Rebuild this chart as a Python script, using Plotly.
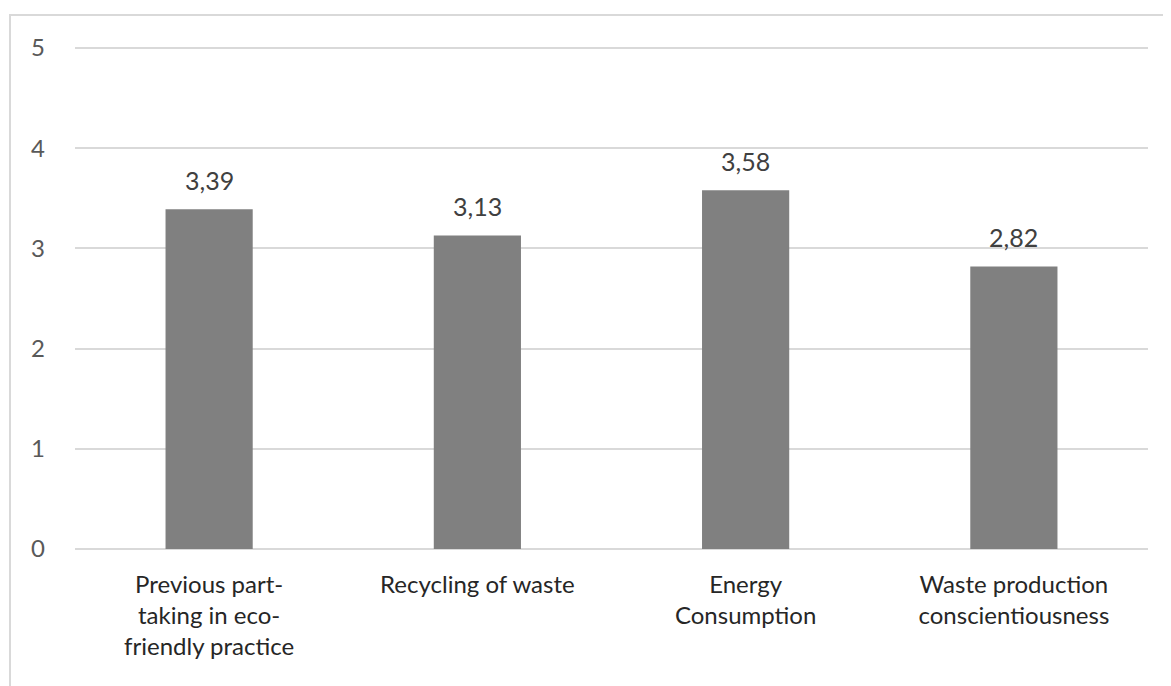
import plotly.graph_objects as go

categories = ["Previous part-<br>taking in eco-<br>friendly practice", "Recycling of waste",
              "Energy<br>Consumption", "Waste production<br>conscientiousness"]
values = [3.39, 3.13, 3.58, 2.82]
value_labels = ["3,39", "3,13", "3,58", "2,82"]
y_ticks = [0, 1, 2, 3, 4, 5]

FONT = "Lato"

# page body adds an 8px margin; figure sized/positioned accordingly
W, H = 1163, 678
L, R, T, B = 67, 23, 38, 137

fig = go.Figure()
fig.add_trace(go.Bar(
    x=categories, y=values,
    marker=dict(color="#808080", line=dict(width=0)),
    hoverinfo="skip",
))
for c, v, t in zip(categories, values, value_labels):
    fig.add_annotation(x=c, y=v, text=t, showarrow=False, yanchor="bottom", yshift=12,
                       font=dict(family=FONT, size=25, color="#404040"))

YMAX = 5.02
fig.update_layout(
    width=W, height=H,
    margin=dict(l=L, r=R, t=T, b=B, autoexpand=False),
    paper_bgcolor="white", plot_bgcolor="white",
    bargap=0.675, showlegend=False,
    font=dict(family=FONT, color="#595959"),
)
fig.update_xaxes(tickfont=dict(family=FONT, size=24, color="#262626"), showgrid=False,
                 showline=False, ticks="", ticklabelstandoff=19, automargin=False)
fig.update_yaxes(range=[0, YMAX], tickvals=y_ticks, ticktext=[str(t) for t in y_ticks],
                 showgrid=True, gridcolor="#d9d9d9", gridwidth=2,
                 zeroline=True, zerolinecolor="#d9d9d9", zerolinewidth=2,
                 showline=False, ticks="", ticklabelstandoff=29, automargin=False,
                 tickfont=dict(family=FONT, size=24, color="#595959"))

# outer chart border (in paper coordinates of plot area)
pw = W - L - R
ph = H - T - B
x0 = (2 - L) / pw
x1 = (W + 5 - L) / pw
y1 = (H - B - 7) / ph
y0 = (H - B - 700) / ph
fig.add_shape(type="rect", xref="paper", yref="paper", x0=x0, x1=x1, y0=y0, y1=y1,
              line=dict(color="#d9d9d9", width=2), fillcolor="rgba(0,0,0,0)", layer="below")

fig.write_html("out.html")
